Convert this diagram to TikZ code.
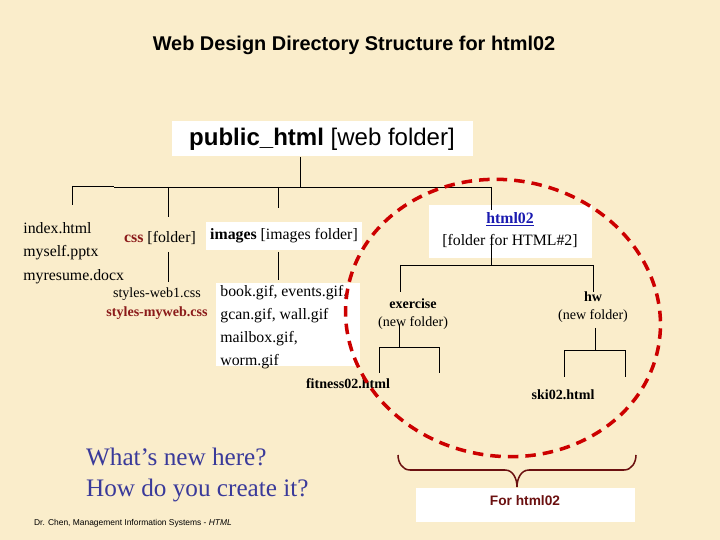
\documentclass[tikz,border=0pt]{standalone}
\usepackage{fontspec}
\setmainfont{Liberation Serif}
\setsansfont{Liberation Sans}
\usepackage{xcolor}
\usetikzlibrary{positioning}
\definecolor{paper}{HTML}{FAEDCB}
\definecolor{darkred}{HTML}{8B1A1A}
\definecolor{linkblue}{HTML}{1A1AB0}
\definecolor{askblue}{HTML}{3A3A9A}
\definecolor{brace}{HTML}{6B1010}
\tikzset{
  whitebox/.style={fill=white,inner sep=0pt},
  srm/.style={font=\fontsize{13.5}{16}\selectfont,inner sep=1pt},
  small/.style={inner sep=1pt,font=\fontsize{12}{15}\selectfont},
  tline/.style={black,line width=0.6pt}
}
\begin{document}
\begin{tikzpicture}[x=0.03cm,y=-0.03cm]
\fill[paper] (0,0) rectangle (720,540);
\useasboundingbox (0,0) rectangle (720,540);
%% title and root
\node[font=\sffamily\bfseries\fontsize{17}{19}\selectfont] (title) at (354,45) {Web Design Directory Structure for html02};
\node[whitebox,minimum width=301*0.03cm,minimum height=35*0.03cm,font=\sffamily\fontsize{20.5}{24}\selectfont] (root) at (322,139) {\textbf{public\_html} [web folder]};
%% white boxes
\fill[white] (206,222) rectangle (362,250);
\fill[white] (216,283) rectangle (360,366);
\fill[white] (429,205) rectangle (592,258);
\fill[white] (416,488) rectangle (635,522);
%% tree lines
\draw[tline] (300,157) -- (300,187);
\draw[tline] (72,186) -- (114,186);
\draw[tline] (114,187) -- (491,187);
\draw[tline] (72,186) -- (72,205);
\draw[tline] (168,187) -- (168,217);
\draw[tline] (278,187) -- (278,208);
\draw[tline] (491,187) -- (491,210);
\draw[tline] (168,252) -- (168,282);
\draw[tline] (278,252) -- (278,280);
\draw[tline] (491,236) -- (491,265);
\draw[tline] (400,265) -- (593,265);
\draw[tline] (400,265) -- (400,292);
\draw[tline] (593,265) -- (593,292);
\draw[tline] (399,325) -- (399,347);
\draw[tline] (379,373) -- (379,347) -- (439,347) -- (439,373);
\draw[tline] (595,328) -- (595,350);
\draw[tline] (564,377) -- (564,350) -- (625,350) -- (625,377);
%% labels
\node[srm,align=left,anchor=north west,font=\fontsize{13.5}{20}\selectfont] (files) at (22,221) {index.html\\myself.pptx\\myresume.docx};
\node[srm] (css) at (160,238) {\textcolor{darkred}{\textbf{css}} [folder]};
\node[srm] (images) at (284,236) {\textbf{images} [images folder]};
\node[small,align=center,font=\fontsize{12}{16}\selectfont] (cssfiles) at (157,304) {styles-web1.css\\\textcolor{darkred}{\textbf{styles-myweb.css}}};
\node[srm,align=left,anchor=north west,font=\fontsize{13.5}{19.5}\selectfont] (gifs) at (219,284) {book.gif, events.gif,\\gcan.gif, wall.gif\\mailbox.gif,\\worm.gif};
\node[srm,align=center,font=\fontsize{13.5}{19}\selectfont] (html02) at (510,230) {\textcolor{linkblue}{\textbf{\underline{html02}}}\\\relax [folder for HTML\#2]};
\node[small,align=center] (exercise) at (413,314) {\textbf{exercise}\\(new folder)};
\node[small,align=center] (hw) at (593,307) {\textbf{hw}\\(new folder)};
\node[small,font=\fontsize{12}{14}\selectfont\bfseries] (fitness) at (348,384) {fitness02.html};
\node[small,font=\fontsize{12}{14}\selectfont\bfseries] (ski) at (563,395) {ski02.html};
%% red dashed circle
\draw[red!80!black,line width=3pt,dash pattern=on 9pt off 6pt,rotate around={-10:(503,318)}] (503,318) ellipse (158 and 138);
%% brace
\draw[brace,line width=1.3pt] (398,455) to[out=-90,in=180] (410,470) -- (505,470) to[out=0,in=90] (517,487)
  (517,487) to[out=90,in=180] (529,470) -- (624,470) to[out=0,in=-90] (636,455);
\node[font=\sffamily\bfseries\fontsize{11.7}{13}\selectfont,text=brace] (for) at (525,501) {For html02};
%% question
\node[align=left,anchor=west,text=askblue,font=\fontsize{21.5}{26}\selectfont] (ask) at (82,475) {What’s new here?\\How do you create it?};
\node[anchor=west,font=\sffamily\fontsize{7.2}{8}\selectfont] (foot) at (30,523) {Dr. Chen, Management Information Systems - \textit{HTML}};
\end{tikzpicture}
\end{document}
